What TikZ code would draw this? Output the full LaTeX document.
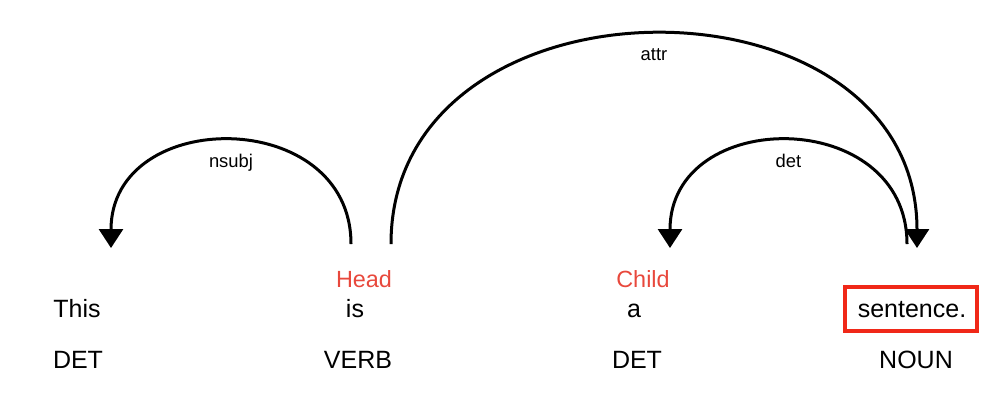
\documentclass[tikz,border=0pt]{standalone}
\usepackage{fontspec}
\setmainfont{Liberation Sans}
\usetikzlibrary{arrows.meta}
\definecolor{headred}{RGB}{232,72,60}
\definecolor{boxred}{RGB}{240,40,24}

\begin{document}
\begin{tikzpicture}[x=0.5pt,y=-0.5pt,
    word/.style={anchor=base,inner sep=0pt,font=\fontsize{12.5}{15}\selectfont},
    role/.style={anchor=base,inner sep=0pt,text=headred,font=\fontsize{11.7}{14}\selectfont},
    lab/.style={anchor=base,inner sep=0pt,yshift=-13pt,font=\fontsize{9.2}{11}\selectfont},
    arc/.style={line width=1.5pt,-{Triangle[width=12pt,length=9.5pt]}},
    hilite/.style={draw=boxred,line width=2pt,minimum width=66pt,minimum height=22pt}]
        \useasboundingbox (0,0) rectangle (1006,404);
        \node[word] (this) at (77,317) {This};
        \node[word] (is) at (355,317) {is};
        \node[word] (a) at (634,317) {a};
        \node[word] (sent) at (912,317) {sentence.};
        \node[word] (det1) at (78,368) {DET};
        \node[word] (verb) at (358,368) {VERB};
        \node[word] (det2) at (637,368) {DET};
        \node[word] (noun) at (916,368) {NOUN};
        \node[role] (head) at (364,287) {Head};
        \node[role] (child) at (643,287) {Child};
        \node[hilite] (box) at (911,309) {};
        \coordinate (is-l) at (351,244);
        \coordinate (is-r) at (391,244);
        \coordinate (this-in) at (111,248);
        \coordinate (a-in) at (670,248);
        \coordinate (sent-out) at (907,244);
        \coordinate (sent-in) at (917,248);
        \draw[arc] (is-l) .. controls +(0,-138) and +(0,-142) .. (this-in)
            node[lab, midway] (l-nsubj) {nsubj};
        \draw[arc] (sent-out) .. controls +(0,-138) and +(0,-142) .. (a-in)
            node[lab, midway] (l-det) {det};
        \draw[arc] (is-r) .. controls +(0,-280) and +(0,-284) .. (sent-in)
            node[lab, midway] (l-attr) {attr};
\end{tikzpicture}
\end{document}
